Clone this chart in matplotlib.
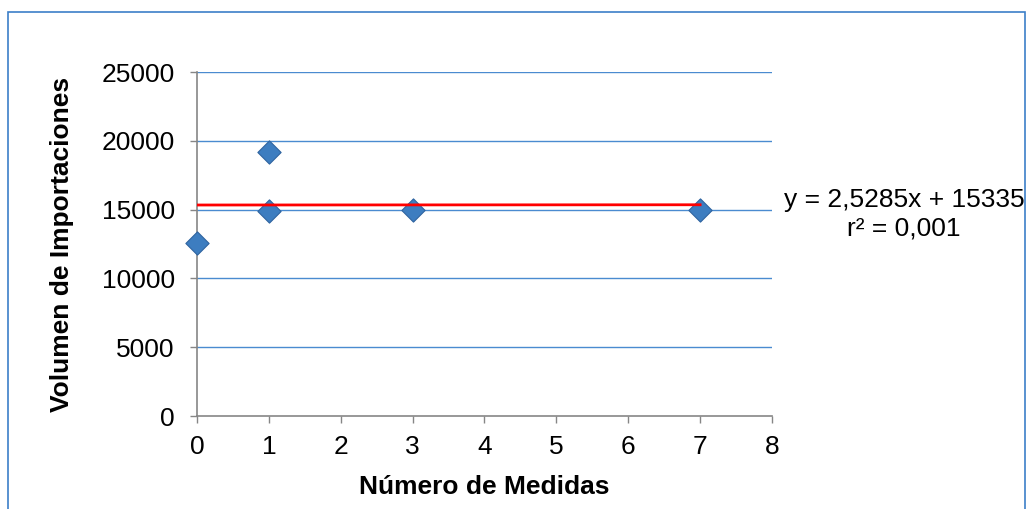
import matplotlib.pyplot as plt
from matplotlib.patches import Rectangle

plt.rcParams['font.family'] = ['Liberation Sans', 'DejaVu Sans']

medidas = [0, 1, 1, 3, 7]
volumen = [12600, 19200, 14900, 14950, 15000]
pendiente = 2.5285
intercepto = 15335
x_ticks = [0, 1, 2, 3, 4, 5, 6, 7, 8]
y_ticks = [0, 5000, 10000, 15000, 20000, 25000]

fig = plt.figure(figsize=(10.27, 5.09), dpi=100)
ax = fig.add_axes([0.1918, 0.1827, 0.5599, 0.6758])

for yv in y_ticks[1:]:
    ax.axhline(yv, color='#4A8BD0', linewidth=1, zorder=1)

ax.scatter(medidas, volumen, marker='D', s=140, color='#3D7DC0',
           edgecolor='#2F64A0', linewidth=0.8, zorder=3, clip_on=False)

xs = [min(medidas), max(medidas)]
ax.plot(xs, [pendiente * x + intercepto for x in xs], color='#FF0000',
        linewidth=2, zorder=4)

ax.set_xlim(0, 8)
ax.set_ylim(0, 25000)
ax.set_xticks(x_ticks)
ax.set_yticks(y_ticks)
ax.tick_params(axis='both', labelsize=19, color='#868686', length=5, width=1)
ax.tick_params(axis='y', pad=11)
ax.tick_params(axis='x', pad=9)
for s in ['top', 'right']:
    ax.spines[s].set_visible(False)
for s in ['left', 'bottom']:
    ax.spines[s].set_color('#868686')
    ax.spines[s].set_linewidth(1.2)

ax.set_xlabel('Número de Medidas', fontsize=19, fontweight='bold')
ax.set_ylabel('Volumen de Importaciones', fontsize=19, fontweight='bold')
ax.xaxis.set_label_coords(0.5, -0.206)
ax.yaxis.set_label_coords(-0.2348, 0.5)
ax.xaxis.label.set_va('center')
ax.yaxis.label.set_va('center')

fig.text(904 / 1027, 1 - 200 / 509, 'y = 2,5285x + 15335', fontsize=19,
         ha='center', va='center')
fig.text(904 / 1027, 1 - 228 / 509, 'r² = 0,001', fontsize=19,
         ha='center', va='center')

fig.patches.append(Rectangle((8 / 1027, -0.1), 1017 / 1027, 1.1 - 12 / 509,
                             transform=fig.transFigure, fill=False,
                             edgecolor='#3C7FC8', linewidth=1.2))

fig.savefig('out.png', dpi=100, facecolor='white')
